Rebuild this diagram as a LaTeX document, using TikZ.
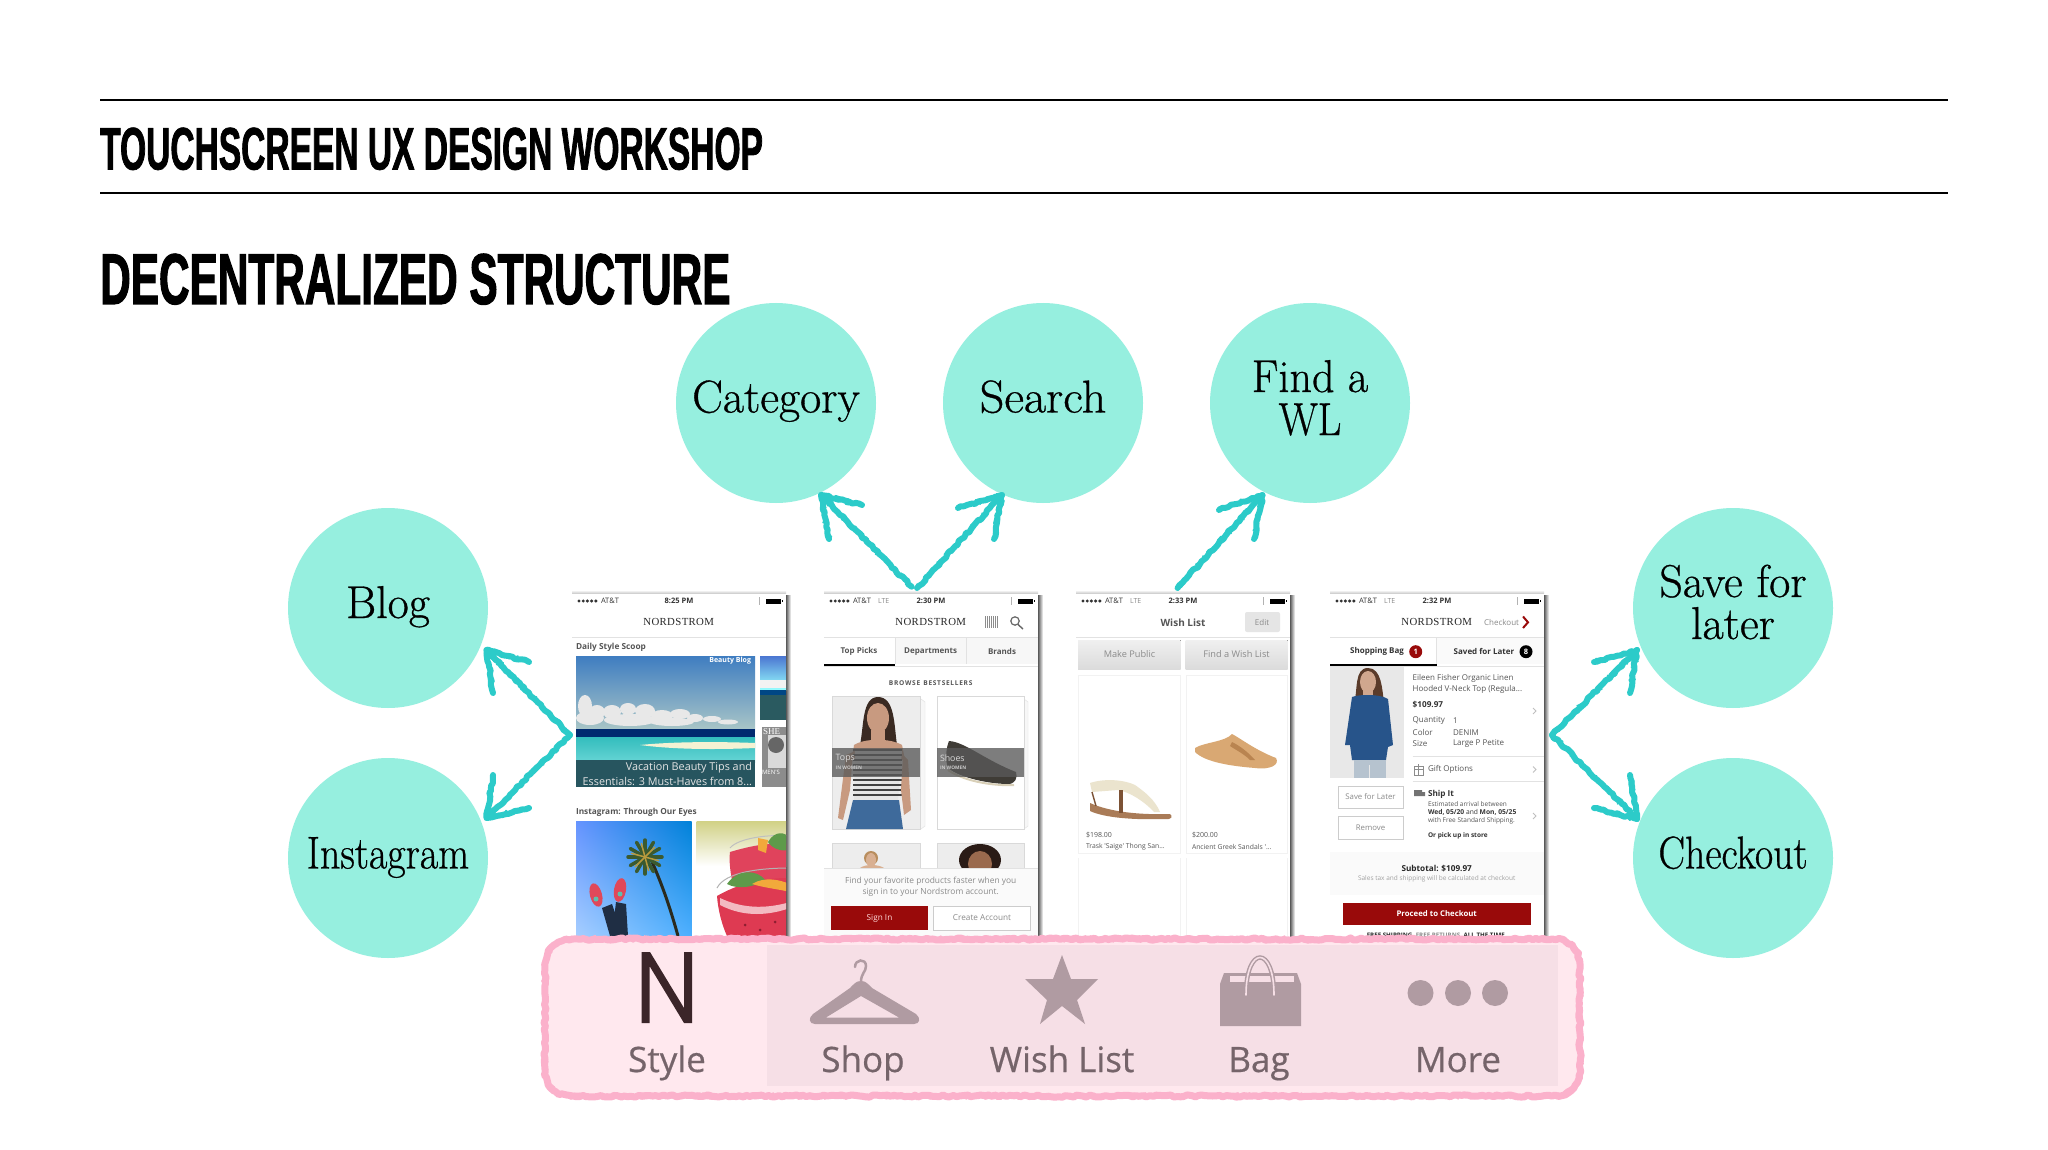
\documentclass[tikz,border=0pt]{standalone}
\usepackage{fontspec}
\usetikzlibrary{decorations.pathmorphing,shadings}
\newfontfamily\din[FakeStretch=0.559,FakeBold=1.2]{Liberation Sans}
\newfontfamily\dinh[FakeStretch=0.588,FakeBold=1.4]{Liberation Sans}
\newfontfamily\ui{Open Sans}
\newfontfamily\tabf[FakeBold=.5]{Open Sans}
\newfontfamily\bub[FakeBold=.7]{Latin Modern Roman}
\newfontfamily\nord{Liberation Serif}
\setmainfont{Latin Modern Roman}
\definecolor{mint}{HTML}{96EFDF}
\definecolor{chalk}{HTML}{2CCBC9}
\definecolor{pinkb}{HTML}{FBB1CB}
\definecolor{barL}{HTML}{FFE8EE}
\definecolor{barD}{HTML}{F6DFE6}
\definecolor{iconc}{HTML}{B09BA2}
\definecolor{tabt}{HTML}{75646A}
\definecolor{uit}{HTML}{555555}
\definecolor{uig}{HTML}{8A8A8A}
\definecolor{rd}{HTML}{990A0A}
\definecolor{tline}{HTML}{E2E2E2}
\newcounter{tn}
\newcommand{\lbl}[4][]{\stepcounter{tn}\node (t\thetn) [uitext,#1] at (#2,#3) {#4};}
\newcommand{\hs}[2]{\scalebox{#1}[1]{#2}}
\newcommand{\nordname}[1]{\lbl[font=\nord\fontsize{10.8}{11}\selectfont,text=black!85]{#1}{622.3}{N\kern.35pt O\kern.35pt R\kern.35pt D\kern.35pt S\kern.35pt T\kern.35pt R\kern.35pt O\kern.35pt M}}
\newcommand{\phonebase}[4]{% name, left, status-net, time
  \node (#1) [phonebox] at (#2+107,764.5) {};
  \fill[left color=black!65,right color=white] (#2+214,595) rectangle (#2+219,936);
  \fill[top color=white,bottom color=black!18] (#2,590) rectangle (#2+214,593);
  \foreach \d in {0,1,2,3,4}{\fill[black!80] (#2+7+\d*4.2,601) circle[radius=1.7];}
  \lbl[anchor=west,font=\ui\fontsize{7.5}{8}\selectfont,text=black!80]{#2+29}{601}{AT\&T}
  \lbl[anchor=west,font=\ui\fontsize{7}{8}\selectfont,text=uig]{#2+54}{601}{#3}
  \lbl[font=\ui\bfseries\fontsize{7.5}{8}\selectfont,text=black!80]{#2+107}{601}{#4}
  \fill[black!30] (#2+186.5,597) rectangle (#2+188,605);
  \fill[black] (#2+194,598.5) rectangle (#2+209,603.5);
  \fill[black] (#2+209.5,600) rectangle (#2+210.5,602);
  \draw[tline,line width=1] (#2,637.3) -- (#2+214,637.3);
}
\tikzset{
  hx/.code={\definecolor{hxc}{HTML}{#1}\tikzset{color=hxc}},
  uitext/.style={inner sep=0,outer sep=0,text=uit,font=\ui\fontsize{9}{10}\selectfont},
  phonebox/.style={draw=none,fill=white,minimum width=214pt,minimum height=343pt,inner sep=0},
  bubble/.style={circle,fill=mint,minimum size=200pt,inner sep=0},
  bubtext/.style={anchor=base,inner sep=0,text=black,font=\bub\fontsize{46}{46}\selectfont},
  rough/.style={decorate,decoration={random steps,segment length=3.5pt,amplitude=1.1pt},line cap=round,line join=round},
  rougher/.style={decorate,decoration={random steps,segment length=2.5pt,amplitude=3pt},line cap=round,line join=round},
  chalkline/.style={draw=chalk,line width=6pt,rough},
  chalkfine/.style={draw=chalk,line width=1.6pt,rougher},
  tabtext/.style={anchor=base,inner sep=0,text=tabt,font=\tabf\fontsize{35}{36}\selectfont},
  btnbox/.style={draw=black!20,fill=white,line width=.8pt},
}
\newcommand{\chalkarrow}[4]{% tail tip barb barb
  \foreach \s/\a in {chalkline/1,chalkfine/1}{
    \draw[\s] (#1) -- (#2);
    \draw[\s] (#3) -- (#2) -- (#4);
  }
}
\begin{document}
\begin{tikzpicture}[x=1pt,y=-1pt]
\pgfmathsetseed{4217}
\useasboundingbox (0,0) rectangle (2048,1150);
\fill[white] (0,0) rectangle (2048,1150);
% header
\draw[black,line width=2pt] (100,100.5) -- (1948,100.5);
\draw[black,line width=2pt] (100,193.5) -- (1948,193.5);
\node (title) [anchor=base west,inner sep=0,font=\din\bfseries\fontsize{60}{60}\selectfont] at (100,169.5) {TOUCHSCREEN UX DESIGN WORKSHOP};
\node (head) [anchor=base west,inner sep=0,font=\dinh\bfseries\fontsize{72}{72}\selectfont] at (100,304) {DECENTRALIZED STRUCTURE};
% bubbles
\node (cat) [bubble] at (776,403) {};
\node (sea) [bubble] at (1043,403) {};
\node (fwl) [bubble] at (1310,403) {};
\node (blog) [bubble] at (388,608) {};
\node (insta) [bubble] at (388,858) {};
\node (sfl) [bubble] at (1733,608) {};
\node (chk) [bubble] at (1733,858) {};
\node (catT) [bubtext] at (776,412.5) {Category};
\node (seaT) [bubtext] at (1043,412.5) {\hs{1.05}{Search}};
\node (fwlT1) [bubtext] at (1310,392) {\hs{.96}{Find a}};
\node (fwlT2) [bubtext] at (1310,435) {\hs{.89}{WL}};
\node (blogT) [bubtext] at (388,618) {Blog};
\node (instaT) [bubtext] at (388,868.5) {\hs{.87}{Instagram}};
\node (sflT1) [bubtext] at (1733,597) {Save for};
\node (sflT2) [bubtext] at (1733,639) {later};
\node (chkT) [bubtext] at (1733,868.5) {\hs{.865}{Checkout}};

% ---------- phone 1
\phonebase{ph1}{572}{}{8:25 PM}
\nordname{678.7}
\lbl[anchor=west,font=\ui\bfseries\fontsize{8.3}{9}\selectfont]{576}{647.7}{Daily Style Scoop}
\begin{scope}
\clip (576,656.7) rectangle (755,787);
\fill[top color=blue!35!teal!75,bottom color=cyan!20!gray!55] (576,656.7) rectangle (755,731);
\foreach \cx/\cy/\rx/\ry in {585/706/7/11,597/712/8/7,612/712/9/7,628/709/8/6,645/711/10/7,662/716/11/6,680/714/10/5,695/718/8/4,590/718/14/7,630/720/26/6,672/722/22/4,712/719/9/3,728/722/10/2.5}{
  \fill[white!82!gray] (\cx,\cy) ellipse[x radius=\rx,y radius=\ry];}
\fill[blue!45!teal!60!black] (576,729) rectangle (755,737);
\fill[top color=cyan!35!teal!80,bottom color=teal!55!cyan!60] (576,737) rectangle (755,762);
\fill[white!85!yellow!90!gray] (640,745) .. controls (680,741) and (730,742) .. (755,743) -- (755,748) .. controls (710,750) and (670,749) .. (640,745) -- cycle;
\fill[hx=27555F] (576,760) rectangle (755,787);
\end{scope}
\lbl[anchor=east,font=\ui\bfseries\fontsize{7}{8}\selectfont,text=white]{751}{661}{Beauty Blog}
\lbl[anchor=east,font=\ui\fontsize{10.8}{12}\selectfont,text=white!90!black]{752}{767.7}{Vacation Beauty Tips and}
\lbl[anchor=east,font=\ui\fontsize{10.8}{12}\selectfont,text=white!90!black]{752}{781}{Essentials: 3 Must-Haves from 8...}
\begin{scope}
\clip (760,656.7) rectangle (786,719.3);
\fill[top color=blue!50!teal!70,bottom color=white!60!cyan] (760,656.7) rectangle (786,690);
\fill[white!90!gray] (760,680) rectangle (786,688);
\fill[teal!70!blue!80!black] (760,690) rectangle (786,695);
\fill[hx=2A5A60] (760,695) rectangle (786,720);
\end{scope}
\fill[black!45] (762,726.7) rectangle (786,787.3);
\fill[white!85!black] (768,735) rectangle (786,768);
\fill[black!60] (776,745) circle[radius=8];
\lbl[anchor=west,font=\nord\fontsize{9}{9}\selectfont,text=white]{763}{732}{SHE}
\lbl[anchor=west,font=\ui\fontsize{6}{7}\selectfont,text=white]{762}{772}{MEN'S}
\lbl[anchor=west,font=\ui\bfseries\fontsize{8.3}{9}\selectfont]{576}{812.3}{Instagram: Through Our Eyes}
\begin{scope}
\clip (576,821.7) rectangle (691.7,936);
\shade[upper left=cyan!30!blue!60,upper right=blue!40!cyan!85!black,lower left=cyan!45!blue!35!white,lower right=cyan!55!blue!70] (576,821.7) rectangle (691.7,936);
\draw[hx=2B2B1E,line width=3pt] (678,936) .. controls (668,900) and (660,880) .. (650,857);
\foreach \a in {0,30,...,330}{\draw[hx=3B5A30,line width=3.5pt,line cap=round] (645,857) -- ++(\a:17);}
\foreach \a in {15,75,...,315}{\draw[hx=B99A3D,line width=1.5pt,line cap=round] (645,857) -- ++(\a:14);}
\fill[hx=1F2E44] (610,936) -- (602,908) -- (612,904) -- (623,936) -- cycle;
\fill[hx=1F2E44] (612,936) -- (616,902) -- (626,904) -- (628,936) -- cycle;
\fill[hx=E0485A,rotate around={15:(596,895)}] (596,895) ellipse[x radius=6,y radius=12];
\fill[hx=E0485A,rotate around={-10:(620,890)}] (620,890) ellipse[x radius=6,y radius=12];
\fill[hx=5DBFAE] (596,899) circle[radius=2.5] (620,894) circle[radius=2.5];
\end{scope}
\begin{scope}
\clip (696.7,821.7) rectangle (786,936);
\fill[top color=gray!55!yellow!65,bottom color=white] (696.7,821.7) rectangle (786,866);
\fill[white] (696.7,866) rectangle (786,936);
% upper glass
\draw[black!25,line width=1pt] (730,848) .. controls (738,838) and (770,834) .. (790,836);
\fill[hx=E0435C] (730,852) .. controls (750,846) and (770,842) .. (790,844) -- (790,880) -- (732,880) .. controls (730,870) and (729,860) .. (730,852) -- cycle;
% lower glass
\draw[black!30,line width=1pt] (717,888) .. controls (725,872) and (760,868) .. (790,868);
\fill[hx=DE3A52] (717,896) .. controls (745,880) and (770,878) .. (790,878) -- (790,936) -- (727,936) .. controls (722,925) and (718,910) .. (717,896) -- cycle;
\fill[white,opacity=.65] (720,905) .. controls (745,918) and (770,915) .. (790,908) -- (790,902) .. controls (770,908) and (745,910) .. (720,898) -- cycle;
\fill[hx=8E1E30] (745,925) circle[radius=1.5] (760,930) circle[radius=1.5] (775,922) circle[radius=1.5];
\fill[hx=5E9A4A] (727,884) .. controls (738,868) and (758,870) .. (765,880) .. controls (755,887) and (738,890) .. (727,884) -- cycle;
\fill[hx=F2A93B] (752,884) .. controls (765,876) and (780,880) .. (790,884) -- (790,892) .. controls (778,889) and (765,888) .. (752,884) -- cycle;
\fill[hx=5E9A4A] (768,842) .. controls (775,830) and (785,832) .. (790,838) -- (790,850) .. controls (780,852) and (772,848) .. (768,842) -- cycle;
\fill[hx=F2A93B] (758,838) -- (768,840) -- (766,853) -- (758,850) -- cycle;
\end{scope}

% ---------- phone 2
\phonebase{ph2}{824}{LTE}{2:30 PM}
\nordname{930.7}
\foreach \d in {0,2,...,12}{\draw[black!45,line width=.9pt] (985+\d,616) -- (985+\d,628);}
\draw[black!60,line width=1.2pt] (1015,621) circle[radius=4.2];
\draw[black!60,line width=1.4pt] (1018,624.5) -- (1023,629);
\fill[black!3] (895,638) rectangle (1038,664);
\draw[tline,line width=.8pt] (895,638) -- (895,664) (966.7,638) -- (966.7,664);
\draw[tline,line width=.8pt] (824,666) -- (1038,666);
\fill[black] (824,664) rectangle (895,666);
\lbl[font=\ui\bfseries\fontsize{8}{9}\selectfont]{859}{651.7}{Top Picks}
\lbl[font=\ui\bfseries\fontsize{8}{9}\selectfont]{930.7}{651.7}{Departments}
\lbl[font=\ui\bfseries\fontsize{8}{9}\selectfont]{1002}{651.7}{Brands}
\lbl[font=\ui\bfseries\fontsize{6.6}{7}\selectfont]{930.7}{683}{B\kern.7pt R\kern.7pt O\kern.7pt W\kern.7pt S\kern.7pt E\kern.7pt\ \kern.7pt B\kern.7pt E\kern.7pt S\kern.7pt T\kern.7pt S\kern.7pt E\kern.7pt L\kern.7pt L\kern.7pt E\kern.7pt R\kern.7pt S}
\draw[black!12,fill=black!3] (921,699) -- (925,702) -- (925,826) -- (921,829);
\draw[black!12,fill=black!3] (1024,699) -- (1028,702) -- (1028,826) -- (1024,829);
\draw[black!15,fill=black!7] (832.3,696) rectangle (920,829);
\draw[black!15,fill=white] (936.7,696) rectangle (1024,829);
\begin{scope}
\clip (832.3,696) rectangle (920,829);
\fill[hx=3A2A22] (878,697) .. controls (895,697) and (894,725) .. (897,745) -- (890,750) -- (866,750) -- (860,745) .. controls (864,725) and (862,697) .. (878,697) -- cycle;
\fill[hx=C89A80] (878,718) ellipse[x radius=11,y radius=15];
\fill[hx=C89A80] (871,730) rectangle (885,745);
\fill[hx=C89A80] (854,745) .. controls (865,738) and (890,738) .. (902,745) -- (905,760) -- (852,760) -- cycle;
\fill[white!90!black] (855,750) -- (902,750) -- (898,800) -- (854,800) -- cycle;
\foreach \yy in {750,755,...,798}{\draw[black!75,line width=2.3pt] (853,\yy) -- (902,\yy);}
\fill[hx=3E6A9B] (853,800) -- (899,800) -- (903,829) -- (846,829) -- cycle;
\fill[hx=C89A80] (846,755) -- (853,752) -- (850,790) -- (843,820) -- (838,818) -- cycle;
\fill[hx=C89A80] (903,755) -- (908,760) -- (911,810) -- (904,815) -- (901,790) -- cycle;
\end{scope}
\fill[hx=3F3C36] (949,741) .. controls (965,742) and (985,760) .. (1016,772) .. controls (1018,778) and (1015,784) .. (1008,784) .. controls (990,784) and (960,778) .. (948,768) .. controls (945,760) and (946,748) .. (949,741) -- cycle;
\draw[hx=D9D0B8,line width=2pt] (948,770) .. controls (965,782) and (995,786) .. (1014,785);
\fill[black!65,opacity=.78] (832.3,747.7) rectangle (920,777.3);
\fill[black!65,opacity=.78] (936.7,747.7) rectangle (1024,777.3);
\lbl[anchor=west,font=\ui\fontsize{8.8}{9}\selectfont,text=white!85!black]{835.7}{758}{Tops}
\lbl[anchor=west,font=\ui\bfseries\fontsize{4.8}{5}\selectfont,text=white!80!black]{835.7}{767.7}{IN WOMEN}
\lbl[anchor=west,font=\ui\fontsize{8.8}{9}\selectfont,text=white!85!black]{940}{758}{Shoes}
\lbl[anchor=west,font=\ui\bfseries\fontsize{4.8}{5}\selectfont,text=white!80!black]{940}{767.7}{IN WOMEN}
\draw[black!15,fill=black!7] (832.3,843) rectangle (920,868);
\draw[black!15,fill=black!7] (936.7,843) rectangle (1024,868);
\fill[hx=B98E5E] (871,858) circle[radius=7] ;
\fill[hx=D9B092] (871,860) ellipse[x radius=5,y radius=7];
\fill[hx=D9B092] (860,868) .. controls (865,864) and (878,864) .. (884,868) -- cycle;
\begin{scope}
\clip (936.7,843) rectangle (1024,868);
\fill[hx=2A1B16] (980,860) ellipse[x radius=21,y radius=16];
\fill[hx=9A6A4E] (980,864) ellipse[x radius=12,y radius=13];
\end{scope}
\fill[black!2] (824,868) rectangle (1038,936);
\draw[tline,line width=.8pt] (824,868) -- (1038,868);
\lbl[font=\ui\fontsize{8.4}{9}\selectfont,text=uig]{930.7}{881.7}{Find your favorite products faster when you}
\lbl[font=\ui\fontsize{8.4}{9}\selectfont,text=uig]{930.7}{892}{sign in to your Nordstrom account.}
\fill[rd] (831,906) rectangle (928,930);
\lbl[font=\ui\fontsize{8.2}{9}\selectfont,text=white!85!red]{879.5}{918}{Sign In}
\draw[btnbox] (933.3,906) rectangle (1030.7,930);
\lbl[font=\ui\fontsize{8.2}{9}\selectfont,text=uig]{982}{918}{Create Account}

% ---------- phone 3
\phonebase{ph3}{1076}{LTE}{2:33 PM}
\lbl[font=\ui\bfseries\fontsize{10}{11}\selectfont]{1183}{622.3}{Wish List}
\fill[black!10,rounded corners=2pt] (1245,612) rectangle (1280,632);
\lbl[font=\ui\fontsize{8}{9}\selectfont,text=uig]{1262}{622.3}{Edit}
\fill[top color=black!6,bottom color=black!14] (1078,640) rectangle (1180.7,669);
\fill[top color=black!6,bottom color=black!14] (1185.7,640) rectangle (1287.7,669);
\lbl[font=\ui\fontsize{9.2}{10}\selectfont,text=uig]{1129.5}{654.5}{Make Public}
\lbl[font=\ui\fontsize{9.2}{10}\selectfont,text=uig]{1236.5}{654.5}{Find a Wish List}
\draw[black!5,line width=1pt] (1078,675) rectangle (1180,853) (1186,675) rectangle (1287,853);
\draw[black!5,line width=1pt] (1078,858) -- (1078,936) (1180,858) -- (1180,936) (1186,858) -- (1186,936) (1287,858) -- (1287,936);
\fill[hx=A97B57] (1090,803) .. controls (1110,812) and (1140,815) .. (1170,814) .. controls (1173,816) and (1172,820) .. (1165,819) .. controls (1135,820) and (1105,818) .. (1090,811) -- cycle;
\fill[hx=EBE4CE] (1090,783) .. controls (1105,778) and (1125,780) .. (1135,785) .. controls (1145,792) and (1155,800) .. (1160,812) -- (1154,812) .. controls (1145,802) and (1130,792) .. (1118,790) -- (1092,792) -- cycle;
\fill[hx=7C5235] (1119,790) rectangle (1123,813);
\draw[hx=7C5235,line width=1.4pt] (1092,792) -- (1096,806);
\fill[hx=D9A873] (1195,748) .. controls (1205,742) and (1225,742) .. (1232,734) .. controls (1240,738) and (1255,750) .. (1276,758) .. controls (1280,765) and (1270,770) .. (1255,768) .. controls (1230,766) and (1205,762) .. (1195,752) -- cycle;
\fill[hx=B98450] (1232,742) .. controls (1240,746) and (1248,752) .. (1255,760) -- (1250,760) .. controls (1244,754) and (1236,750) .. (1230,746) -- cycle;
\lbl[anchor=west,font=\ui\fontsize{7}{8}\selectfont]{1086}{835}{\$198.00}
\lbl[anchor=west,font=\ui\fontsize{7}{8}\selectfont]{1192}{835}{\$200.00}
\lbl[anchor=west,font=\ui\fontsize{6.8}{8}\selectfont]{1086}{847}{Trask 'Saige' Thong San...}
\lbl[anchor=west,font=\ui\fontsize{6.8}{8}\selectfont]{1192}{847}{Ancient Greek Sandals '...}

% ---------- phone 4
\phonebase{ph4}{1330}{LTE}{2:32 PM}
\nordname{1436.7}
\lbl[anchor=east,font=\ui\fontsize{8}{9}\selectfont,text=uig]{1519}{622.3}{Checkout}
\draw[rd,line width=2pt] (1523,616.5) -- (1528,622.3) -- (1523,628);
\fill[black!2] (1437,638) rectangle (1544,664);
\draw[tline,line width=.8pt] (1436.7,638) -- (1436.7,664) (1330,666) -- (1544,666);
\fill[black] (1330,664) rectangle (1436.7,666);
\lbl[font=\ui\bfseries\fontsize{8}{9}\selectfont,text=black!80]{1377}{651.7}{Shopping Bag}
\fill[rd] (1415.7,651.7) circle[radius=6.5];
\lbl[font=\ui\bfseries\fontsize{7.5}{8}\selectfont,text=white]{1415.7}{651.7}{1}
\lbl[font=\ui\bfseries\fontsize{8}{9}\selectfont,text=black!80]{1484}{651.7}{Saved for Later}
\fill[black] (1526,651.7) circle[radius=6.5];
\lbl[font=\ui\bfseries\fontsize{7.5}{8}\selectfont,text=white]{1526}{651.7}{8}
\begin{scope}
\clip (1330,667) rectangle (1404,778);
\fill[black!9] (1330,667) rectangle (1404,778);
\fill[hx=5A3B2A] (1368,668) .. controls (1382,668) and (1382,690) .. (1384,702) -- (1354,704) .. controls (1358,690) and (1354,668) .. (1368,668) -- cycle;
\fill[hx=D0A78E] (1368,682) ellipse[x radius=8,y radius=11];
\fill[hx=D0A78E] (1363,690) rectangle (1373,702);
\fill[hx=27548A] (1352,697) .. controls (1360,694) and (1380,694) .. (1388,699) -- (1393,745) -- (1388,747) -- (1386,760) -- (1352,760) -- (1350,745) -- (1345,745) -- cycle;
\fill[hx=B6C3CF] (1354,760) rectangle (1386,778);
\draw[black!9,line width=1pt] (1369,765) -- (1369,778);
\end{scope}
\lbl[anchor=west,font=\ui\fontsize{8}{9}\selectfont]{1412.7}{678.5}{Eileen Fisher Organic Linen}
\lbl[anchor=west,font=\ui\fontsize{8}{9}\selectfont]{1412.7}{689}{Hooded V-Neck Top (Regula...}
\lbl[anchor=west,font=\ui\bfseries\fontsize{8.2}{9}\selectfont,text=black!80]{1412.7}{705}{\$109.97}
\lbl[anchor=west,font=\ui\fontsize{8}{9}\selectfont]{1412.7}{721}{Quantity}
\lbl[anchor=west,font=\ui\fontsize{8}{9}\selectfont]{1412.7}{732.3}{Color}
\lbl[anchor=west,font=\ui\fontsize{8}{9}\selectfont]{1412.7}{743.7}{Size}
\lbl[anchor=west,font=\ui\fontsize{8}{9}\selectfont]{1453}{721}{1}
\lbl[anchor=west,font=\ui\fontsize{8}{9}\selectfont]{1453}{732.3}{DENIM}
\lbl[anchor=west,font=\ui\fontsize{8}{9}\selectfont]{1453}{743.7}{Large P Petite}
\draw[tline,line width=.8pt] (1412.7,756.7) -- (1544,756.7) (1412.7,781.7) -- (1544,781.7);
\draw[black!45,line width=.7pt] (1414,766) rectangle (1423,775) (1414,769) -- (1423,769) (1418.5,764) -- (1418.5,775);
\lbl[anchor=west,font=\ui\fontsize{8}{9}\selectfont]{1428}{769.5}{Gift Options}
\foreach \yy in {711,769.5,816}{\draw[black!25,line width=.8pt] (1533,\yy-3) -- (1536,\yy) -- (1533,\yy+3);}
\fill[black!55] (1414,790) rectangle (1422,796) (1422,792) rectangle (1425,796);
\lbl[anchor=west,font=\ui\bfseries\fontsize{8.2}{9}\selectfont,text=black!80]{1428}{794.5}{Ship It}
\lbl[anchor=west,font=\ui\fontsize{6.5}{7}\selectfont]{1428}{803.7}{Estimated arrival between}
\lbl[anchor=west,font=\ui\fontsize{6.7}{7}\selectfont,text=black!80]{1428}{812.3}{\textbf{Wed, 05/20} and \textbf{Mon, 05/25}}
\lbl[anchor=west,font=\ui\fontsize{6.5}{7}\selectfont]{1428}{821}{with Free Standard Shipping.}
\lbl[anchor=west,font=\ui\bfseries\fontsize{6.5}{7}\selectfont,text=black!80]{1428}{835.7}{Or pick up in store}
\draw[btnbox] (1338,786) rectangle (1403,808);
\draw[btnbox] (1338,816.7) rectangle (1403,839);
\lbl[font=\ui\fontsize{7.8}{8}\selectfont,text=uig]{1370.5}{797}{Save for Later}
\lbl[font=\ui\fontsize{7.8}{8}\selectfont,text=uig]{1370.5}{828}{Remove}
\fill[black!2] (1330,851.7) rectangle (1544,895);
\lbl[font=\ui\bfseries\fontsize{8.2}{9}\selectfont,text=black!85]{1436.7}{868.7}{Subtotal: \$109.97}
\lbl[font=\ui\fontsize{6.5}{7}\selectfont,text=uig!80]{1436.7}{878.5}{Sales tax and shipping will be calculated at checkout}
\fill[rd] (1343,903) rectangle (1530.7,925);
\lbl[font=\ui\bfseries\fontsize{7.8}{8}\selectfont,text=white]{1436.7}{914}{Proceed to Checkout}
\lbl[font=\ui\bfseries\fontsize{6.2}{7}\selectfont,text=black!85]{1436.7}{935.5}{FREE SHIPPING. {\color{uig}FREE RETURNS.} ALL THE TIME.}

% ---------- chalk arrows
\coordinate (tailA) at (911.6,586.7);
\coordinate (tipA) at (821,495);
\coordinate (bA1) at (862,505);
\coordinate (bA2) at (829,539);
\chalkarrow{tailA}{tipA}{bA1}{bA2}
\coordinate (tailB) at (917,588);
\coordinate (tipB) at (1002,495);
\coordinate (bB1) at (958,508);
\coordinate (bB2) at (994,539);
\chalkarrow{tailB}{tipB}{bB1}{bB2}
\coordinate (tailC) at (1177.6,588);
\coordinate (tipC) at (1262.6,495);
\coordinate (bC1) at (1219,510);
\coordinate (bC2) at (1254,539);
\chalkarrow{tailC}{tipC}{bC1}{bC2}
\coordinate (tailL) at (570,735);
\coordinate (tipD) at (486.5,650);
\coordinate (bD1) at (529,662);
\coordinate (bD2) at (493,693);
\chalkarrow{tailL}{tipD}{bD1}{bD2}
\coordinate (tipE) at (486.5,818);
\coordinate (bE1) at (529,808);
\coordinate (bE2) at (493,775);
\chalkarrow{tailL}{tipE}{bE1}{bE2}
\coordinate (tailR) at (1552,735);
\coordinate (tipF) at (1637,650);
\coordinate (bF1) at (1594,662);
\coordinate (bF2) at (1630,693);
\chalkarrow{tailR}{tipF}{bF1}{bF2}
\coordinate (tipG) at (1637,819);
\coordinate (bG1) at (1594,808);
\coordinate (bG2) at (1630,775);
\chalkarrow{tailR}{tipG}{bG1}{bG2}

% ---------- tab bar
\path[fill=barL] (573,939) -- (1552,939) .. controls (1570,939) and (1580,950) .. (1580,968) -- (1580,1068) .. controls (1580,1086) and (1570,1096) .. (1552,1096) -- (573,1096) .. controls (555,1096) and (545,1086) .. (545,1068) -- (545,968) .. controls (545,950) and (555,939) .. (573,939) -- cycle;
\fill[barD] (767,945) rectangle (1558,1086);
\foreach \s/\w in {rough/7,rougher/2}{
\draw[pinkb,line width=\w pt,\s] (573,939) -- (1552,939) .. controls (1570,939) and (1580,950) .. (1580,968) -- (1580,1068) .. controls (1580,1086) and (1570,1096) .. (1552,1096) -- (573,1096) .. controls (555,1096) and (545,1086) .. (545,1068) -- (545,968) .. controls (545,950) and (555,939) .. (573,939) -- cycle;
}
% N icon
\fill[hx=3B2529] (641.5,952) -- (650,952) -- (684,1008) -- (684,952) -- (692,952) -- (692,1023) -- (684,1023) -- (649.5,966) -- (649.5,1023) -- (641.5,1023) -- cycle;
% hanger
\draw[iconc,line width=2.5pt,line cap=round] (855,967) .. controls (855,959) and (866,958) .. (866,966) .. controls (866,972) and (861,973) .. (861,982);
\path[fill=iconc,even odd rule] (861,981) .. controls (866,981) and (868,984) .. (872,988) -- (916,1014) .. controls (921,1018) and (920,1024) .. (914,1024) -- (815,1024) .. controls (809,1024) and (808,1018) .. (813,1014) -- (850,988) .. controls (854,984) and (856,981) .. (861,981) -- cycle (861,996) -- (826,1017.5) -- (899,1017.5) -- cycle;
% star
\fill[iconc] (1062,955) -- (1071,979) -- (1098,979) -- (1077,1000) -- (1085,1024) -- (1062,1006) -- (1040,1024) -- (1047,1000) -- (1025,979) -- (1053,979) -- cycle;
% bag
\fill[iconc] (1224,973) -- (1297,973) -- (1301,984) -- (1301,1026) -- (1220,1026) -- (1220,984) -- cycle;
\fill[barD] (1230,976) rectangle (1294,982);
\draw[iconc,line width=4.5pt,line cap=round] (1246,995) .. controls (1246,945) and (1274,945) .. (1274,995);
\draw[barD,line width=1.6pt,line cap=round] (1246,995) .. controls (1246,945) and (1274,945) .. (1274,995);
% dots
\foreach \xx in {1420.5,1458,1495}{\fill[iconc] (\xx,993) ellipse[x radius=13,y radius=13];}
\node (tabStyle) [tabtext] at (667,1072) {Style};
\node (tabShop) [tabtext] at (863,1072) {Shop};
\node (tabWish) [tabtext] at (1062,1072) {Wish List};
\node (tabBag) [tabtext] at (1259,1072) {Bag};
\node (tabMore) [tabtext] at (1458,1072) {More};
\end{tikzpicture}
\end{document}
